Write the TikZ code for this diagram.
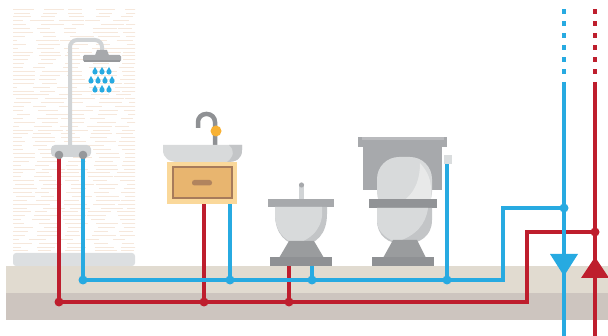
\documentclass[tikz,border=0pt]{standalone}

\definecolor{hotred}{HTML}{BE1E2D}
\definecolor{coldblue}{HTML}{27AAE1}
\definecolor{floorlight}{HTML}{E1DBD0}
\definecolor{floordark}{HTML}{CDC5BF}
\definecolor{slabgrey}{HTML}{DCDFE1}
\definecolor{brickline}{HTML}{F6E8DC}
\definecolor{chrome}{HTML}{D1D4D6}
\definecolor{steel}{HTML}{A7A9AC}
\definecolor{steeldark}{HTML}{8F9194}
\definecolor{porcelain}{HTML}{D8DADB}
\definecolor{porcelainshade}{HTML}{C3C5C7}
\definecolor{woodlight}{HTML}{FAD89A}
\definecolor{wood}{HTML}{E8B56F}
\definecolor{woodedge}{HTML}{A77B5B}
\definecolor{knob}{HTML}{F8B133}

% one drop of the shower
\newcommand{\waterdrop}[2]{
	\fill[coldblue] (#1,#2) circle (2.6pt);
	\fill[coldblue] (#1-2.4,#2-0.8) -- (#1,#2-5) -- (#1+2.4,#2-0.8) -- cycle;
}

\begin{document}
\begin{tikzpicture}[x=1pt, y=-1pt,
		pipe/.style = {line width=4.5pt, line join=miter},
		hot/.style = {pipe, draw=hotred},
		cold/.style = {pipe, draw=coldblue},
		joint/.style = {circle, inner sep=0pt, minimum size=9pt},
		brick/.style = {draw=brickline, line width=0.7pt}]
	\useasboundingbox (0,0) rectangle (608,336);

	% brick wall behind the shower
	\begin{scope}
		\clip (13,8) rectangle (135,252);
		\pgfmathsetseed{17}
		\foreach \r in {0,...,62}{
			\pgfmathsetmacro\yy{9+3.9*\r}
			\pgfmathsetmacro\off{-14+rnd*14}
			\foreach \s in {0,...,4}{
				\pgfmathsetmacro\xa{14+\off+28*\s+rnd*5}
				\pgfmathsetmacro\xb{\xa+12+rnd*13}
				\draw[brick] (\xa,\yy) -- (\xb,\yy);
			}
		}
	\end{scope}
	\fill[slabgrey, rounded corners=3pt] (13,266) -- (13,253) -- (135,253) -- (135,266) -- cycle;

	% floor
	\fill[floorlight] (6,266) rectangle (608,293);
	\fill[floordark] (6,293) rectangle (608,320);

	% junctions
	\node[joint, fill=hotred] (hJ1) at (59,302) {};
	\node[joint, fill=hotred] (hJ2) at (204,302) {};
	\node[joint, fill=hotred] (hJ3) at (289,302) {};
	\node[joint, fill=hotred] (hRiser) at (595,232) {};
	\node[joint, fill=coldblue] (cJ1) at (83,280) {};
	\node[joint, fill=coldblue] (cJ2) at (230,280) {};
	\node[joint, fill=coldblue] (cJ3) at (312,280) {};
	\node[joint, fill=coldblue] (cJ4) at (447,280) {};
	\node[joint, fill=coldblue] (cRiser) at (564,208) {};

	\coordinate (hShower) at (59,155);
	\coordinate (hSink) at (204,200);
	\coordinate (hBidet) at (289,264);
	\coordinate (hBend) at (527,232);
	\coordinate (hTop) at (595,82);
	\coordinate (hBot) at (595,337);
	\coordinate (cShower) at (83,155);
	\coordinate (cSink) at (230,200);
	\coordinate (cBidet) at (312,264);
	\coordinate (cToilet) at (447,163);
	\coordinate (cBend) at (503,208);
	\coordinate (cTop) at (564,82);
	\coordinate (cBot) at (564,337);

	% hot water
	\draw[hot] (hShower) -- (hJ1.center) -| (hBend) -- (hRiser.center);
	\draw[hot] (hSink) -- (hJ2.center);
	\draw[hot] (hBidet) -- (hJ3.center);
	\draw[hot] (hTop) -- (hBot);
	\draw[hot, dash pattern=on 5pt off 7pt] (595,9.5) -- (595,78);
	\fill[hotred] (581,278) -- (609,278) -- (595,257) -- cycle;

	% cold water
	\draw[cold] (cShower) -- (cJ1.center) -| (cBend) -- (cRiser.center);
	\draw[cold] (cSink) -- (cJ2.center);
	\draw[cold] (cBidet) -- (cJ3.center);
	\draw[cold] (cToilet) -- (cJ4.center);
	\draw[cold] (cTop) -- (cBot);
	\draw[cold, dash pattern=on 5pt off 7pt] (564,9.5) -- (564,78);
	\fill[coldblue] (550,254) -- (578,254) -- (564,276) -- cycle;

	% shower
	\draw[chrome, line width=4pt, rounded corners=7pt] (70,150) -- (70,40) -- (102,40) -- (102,52);
	\fill[steel] (97,50) -- (107,50) -- (109,55.5) -- (95,55.5) -- cycle;
	\fill[steel, rounded corners=1.5pt] (83,55) rectangle (121,62);
	\fill[steeldark!70!steel] (84,60) rectangle (120,62);
	\foreach \x in {95,102,109} {\waterdrop{\x}{72}}
	\foreach \x in {91,98,105,112} {\waterdrop{\x}{81}}
	\foreach \x in {95,102,109} {\waterdrop{\x}{90}}
	\fill[chrome, rounded corners=4pt] (51,145) rectangle (91,157);
	\fill[steel!90!black] (59,155) circle (4.3pt);
	\fill[steel!90!black] (83,155) circle (4.3pt);

	% washbasin on its cabinet
	\draw[steeldark, line width=4.5pt, rounded corners=8pt] (198,128) -- (198,114) -- (215,114) -- (215,146);
	\fill[knob] (216,131) circle (5.5pt);
	\fill[porcelain] (163,145) -- (242,145) -- (242,150) .. controls (242,159) and (236,162) .. (227,162)
		-- (178,162) .. controls (169,162) and (163,158) .. (163,150) -- cycle;
	\fill[porcelainshade] (229,145) -- (242,145) -- (242,150) .. controls (242,159) and (236,162) .. (227,162)
		.. controls (234,157) and (235,150) .. (229,145) -- cycle;
	\fill[woodlight] (167,162) rectangle (237,204);
	\filldraw[fill=wood, draw=woodedge, line width=2pt] (172.5,167.5) rectangle (231.5,198);
	\fill[woodedge!85!wood, rounded corners=2.5pt] (192,180) rectangle (212,185.5);

	% bidet
	\fill[chrome] (299,186) rectangle (304,199);
	\fill[steel] (301.5,185) circle (2.6pt);
	\fill[steel] (268,199) rectangle (334,207);
	\fill[porcelainshade] (275,207) -- (327,207) -- (327,214) .. controls (327,234) and (316,245) .. (301,245)
		.. controls (286,245) and (275,234) .. (275,214) -- cycle;
	\fill[porcelain] (275,207) -- (322,207) .. controls (324,226) and (314,238) .. (296,244)
		.. controls (283,240) and (275,230) .. (275,214) -- cycle;
	\fill[steel!92!black] (289,241) -- (314,241) -- (324,258) -- (279,258) -- cycle;
	\fill[steeldark] (270,257) rectangle (332,266);

	% toilet
	\fill[chrome!80!white] (444,155) rectangle (452,164);
	\fill[steel] (363,147) rectangle (442,190);
	\fill[steel] (358,137) rectangle (447,147);
	\fill[steel!80!white] (362,137) rectangle (444,140);
	\fill[porcelain, rounded corners=22pt] (377,157) rectangle (432,214);
	\fill[porcelain!60!white] (420,163) .. controls (428,172) and (431,180) .. (431,190) -- (431,199)
		-- (406,199) .. controls (416,190) and (420,178) .. (420,163) -- cycle;
	\fill[steeldark!90!steel] (369,199) rectangle (437,208);
	\fill[porcelainshade] (377,208) -- (432,208) -- (432,220) .. controls (432,236) and (420,244) .. (404,244)
		.. controls (388,244) and (377,236) .. (377,220) -- cycle;
	\fill[porcelain] (377,208) -- (428,208) .. controls (426,224) and (416,236) .. (396,242)
		.. controls (384,238) and (377,230) .. (377,220) -- cycle;
	\fill[steel!92!black] (393,240) -- (417,240) -- (426,258) -- (383,258) -- cycle;
	\fill[steeldark] (372,257) rectangle (434,266);
\end{tikzpicture}
\end{document}
